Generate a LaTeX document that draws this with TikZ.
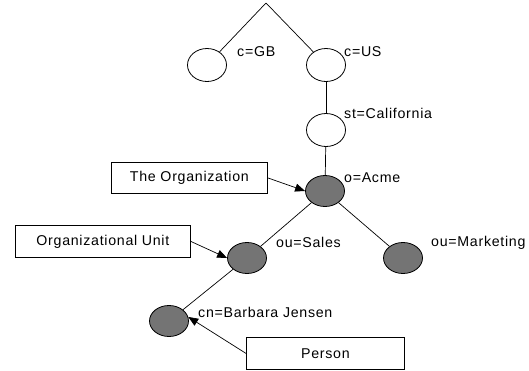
\documentclass[tikz,border=0pt]{standalone}
\usepackage{fontspec}
\setmainfont{Liberation Sans}[LetterSpace=5]
\usetikzlibrary{shapes.geometric,arrows.meta}
\definecolor{entryfill}{RGB}{116,116,116}
\begin{document}
\begin{tikzpicture}[x=1pt,y=-1pt,
  font=\fontsize{14.2}{16}\selectfont,
  entry/.style={ellipse,draw=black,line width=0.8pt,minimum width=39pt,minimum height=32pt,inner sep=0pt},
  blank/.style={entry,fill=white,minimum height=33pt},
  filled/.style={entry,fill=entryfill,minimum height=31pt},
  lbl/.style={anchor=west,inner sep=0pt},
  tag/.style={draw=black,line width=0.8pt,inner sep=0pt,anchor=north west},
  link/.style={draw=black,line width=0.7pt},
  pointer/.style={draw=black,line width=0.7pt,-{Triangle[length=10pt,width=8pt]}}]
\useasboundingbox (0,0) rectangle (529,370);

% directory tree entries
\coordinate (root) at (266,3);
\node[blank]  (gb)    at (207,65)  {};
\node[blank]  (us)    at (326,65)  {};
\node[blank]  (ca)    at (326,130) {};
\node[filled] (acme)  at (325,191) {};
\node[filled] (sales) at (247,258) {};
\node[filled] (mkt)   at (403,258) {};
\node[filled] (bj)    at (169,321) {};

% entry names
\node[lbl] (gbl)    at (237,52)  {c=GB};
\node[lbl] (usl)    at (344,52)  {c=US};
\node[lbl] (cal)    at (344,113) {st=California};
\node[lbl] (acmel)  at (344,178) {o=Acme};
\node[lbl] (salesl) at (276,242) {ou=Sales};
\node[lbl] (mktl)   at (431,243) {ou=Marketing};
\node[lbl] (bjl)    at (198,312) {cn=Barbara Jensen};

% tree edges
\draw[link] (root) -- (gb);
\draw[link] (root) -- (us);
\draw[link] (us) -- (ca);
\draw[link] (ca) -- (acme);
\draw[link] (acme) -- (sales);
\draw[link] (acme) -- (mkt);
\draw[link] (sales) -- (bj);

% object class callouts
\node[tag,minimum width=156pt,minimum height=31pt] (org) at (111,162) {The Organization};
\node[tag,minimum width=175pt,minimum height=32pt] (unit) at (15,225) {Organizational Unit};
\node[tag,minimum width=158pt,minimum height=32pt] (person) at (246,337) {Person};

\draw[pointer] (org.east) -- (acme.west);
\draw[pointer] (unit.east) -- (sales.west);
\draw[pointer] (person.west) -- (bj.12);
\end{tikzpicture}
\end{document}
